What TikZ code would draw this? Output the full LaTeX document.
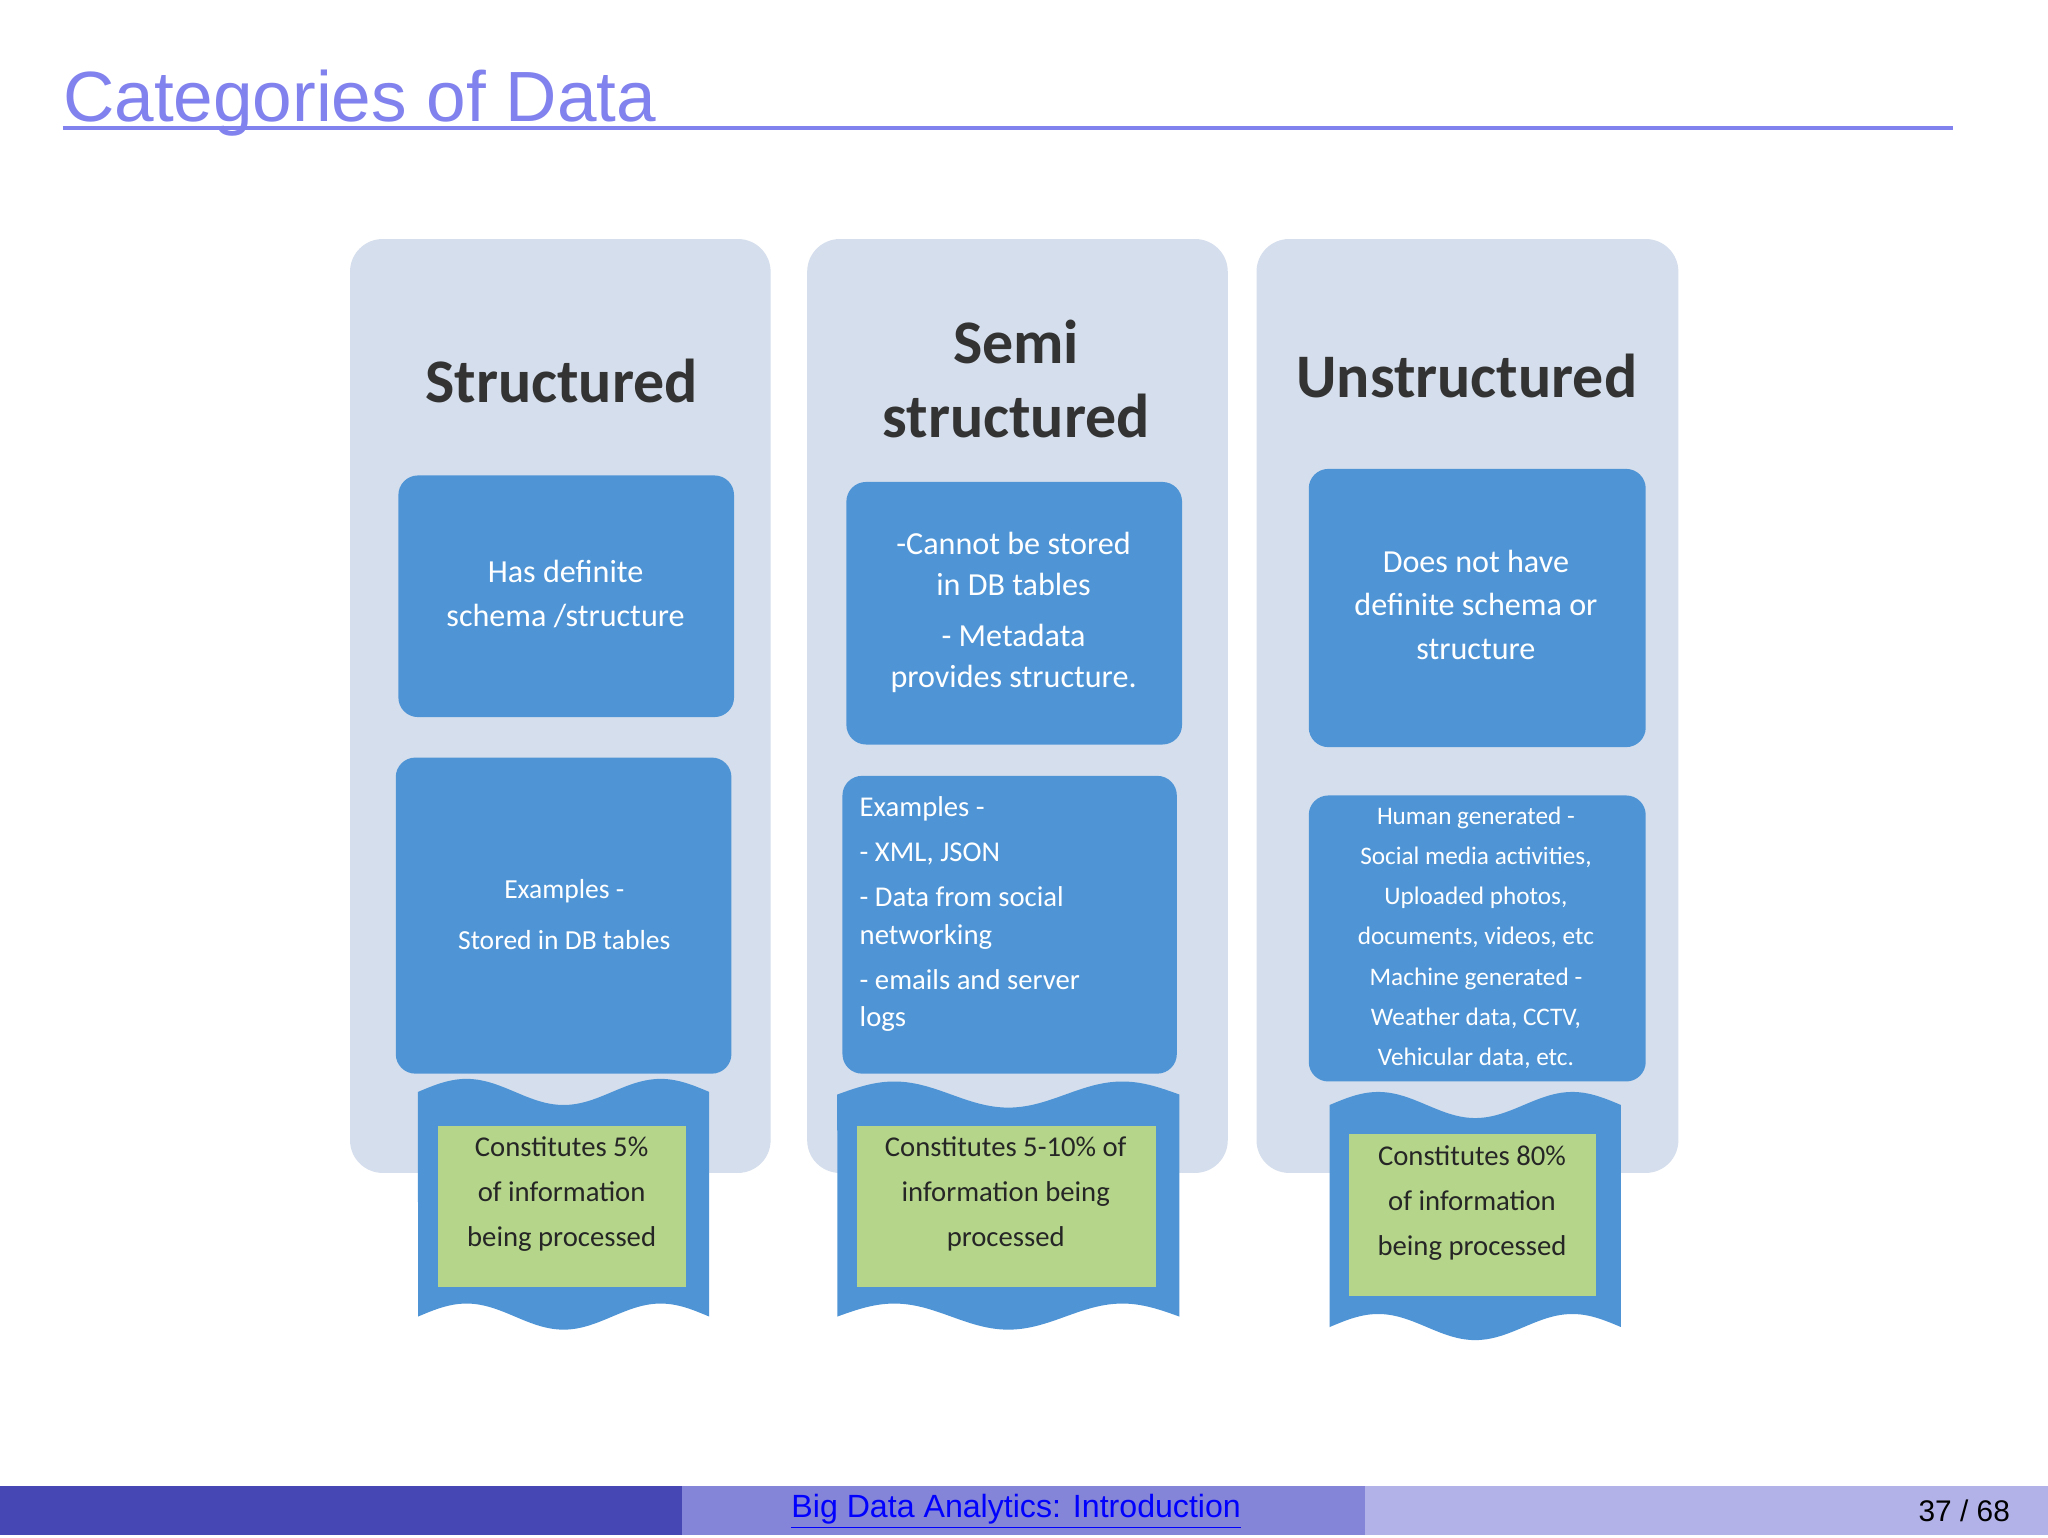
\documentclass[tikz,border=0pt]{standalone}
\usepackage{fontspec}
\setmainfont{Carlito}
\newfontfamily\titlefont{Liberation Sans}
\definecolor{titleblue}{HTML}{8282EE}
\definecolor{panel}{HTML}{D5DEEC}
\definecolor{boxblue}{HTML}{4F95D6}
\definecolor{leaf}{HTML}{B5D68A}
\definecolor{footA}{HTML}{4646B4}
\definecolor{footB}{HTML}{8484D8}
\definecolor{footC}{HTML}{B2B2E8}
\tikzset{
 panelbox/.style={fill=panel,rounded corners=0.5cm},
 bluebox/.style={fill=boxblue,rounded corners=0.3cm},
 head/.style={font=\fontsize{27}{32}\selectfont\bfseries,text=black!80,align=center},
 wtext/.style={font=\fontsize{14}{19}\selectfont,text=white,align=center},
 gtext/.style={font=\fontsize{12.5}{19.5}\selectfont,text=black!85,align=center},
}
\begin{document}
\begin{tikzpicture}[x=0.02cm,y=-0.02cm]
\useasboundingbox (0,0) rectangle (1568,1177);
\fill[white] (0,0) rectangle (1568,1177);
% title
\node[anchor=base west,inner sep=0,font=\titlefont\fontsize{31}{36}\selectfont,text=titleblue] (title) at (48,93) {Categories of Data};
\draw[titleblue,line width=1.8pt] (48,98) -- (1495,98);
% footer
\fill[footA] (0,1138) rectangle (522,1175);
\fill[footB] (522,1138) rectangle (1045,1175);
\fill[footC] (1045,1138) rectangle (1568,1175);
\node[font=\titlefont\fontsize{14}{16}\selectfont,text=blue] (ft) at (778,1157) {\underline{Big Data Analytics: Introduction}};
\node[font=\titlefont\fontsize{13}{16}\selectfont,anchor=east] (pg) at (1545,1157) {37 / 68};
% panels
\fill[panelbox] (268,183) rectangle (590,898);
\fill[panelbox] (618,183) rectangle (940,898);
\fill[panelbox] (962,183) rectangle (1285,898);
\node[head] (h1) at (430,292) {Structured};
\node[head] (h2) at (778,290) {Semi\\structured};
\node[head] (h3) at (1123,288) {Unstructured};
% blue boxes
\fill[bluebox] (305,364) rectangle (562,549);
\fill[bluebox] (303,580) rectangle (560,822);
\fill[bluebox] (648,369) rectangle (905,570);
\fill[bluebox] (645,594) rectangle (901,822);
\fill[bluebox] (1002,359) rectangle (1260,572);
\fill[bluebox] (1002,609) rectangle (1260,828);
\node[wtext] (a1) at (433,455) {Has definite\\schema /structure};
\node[wtext,font=\fontsize{12}{22}\selectfont] (a2) at (432,700) {Examples -\\Stored in DB tables};
\node[wtext,font=\fontsize{14}{18}\selectfont] (b1) at (776,469) {-Cannot be stored\\in DB tables\\[4pt]- Metadata\\provides structure.};
\node[wtext,align=left,anchor=north west,font=\fontsize{12.5}{16.5}\selectfont] (b2) at (652,604) {Examples -\\[3pt]- XML, JSON\\[3pt]- Data from social\\networking\\[3pt]- emails and server\\logs};
\node[wtext] (c1) at (1130,463) {Does not have\\definite schema or\\structure};
\node[wtext,font=\fontsize{11}{17.5}\selectfont] (c2) at (1130,718) {Human generated -\\Social media activities,\\Uploaded photos,\\documents, videos, etc\\Machine generated -\\Weather data, CCTV,\\Vehicular data, etc.};
% wavy banners
\fill[boxblue] plot[smooth,domain=0:1,samples=40] ({320+223*\x},{836-10*sin(\x*540)}) -- plot[smooth,domain=1:0,samples=40] ({320+223*\x},{1008-10*sin(\x*540)}) -- cycle;
\fill[boxblue] plot[smooth,domain=0:1,samples=40] ({641+262*\x},{838-10*sin(\x*540)}) -- plot[smooth,domain=1:0,samples=40] ({641+262*\x},{1008-10*sin(\x*540)}) -- cycle;
\fill[boxblue] plot[smooth,domain=0:1,samples=40] ({1018+223*\x},{846-10*sin(\x*540)}) -- plot[smooth,domain=1:0,samples=40] ({1018+223*\x},{1016-10*sin(\x*540)}) -- cycle;
\fill[leaf] (335,862) rectangle (525,985);
\fill[leaf] (656,862) rectangle (885,985);
\fill[leaf] (1033,868) rectangle (1222,992);
\node[gtext] (g1) at (430,914) {Constitutes 5\%\\of information\\being processed};
\node[gtext] (g2) at (770,914) {Constitutes 5-10\% of\\information being\\processed};
\node[gtext] (g3) at (1127,921) {Constitutes 80\%\\of information\\being processed};
\end{tikzpicture}
\end{document}
